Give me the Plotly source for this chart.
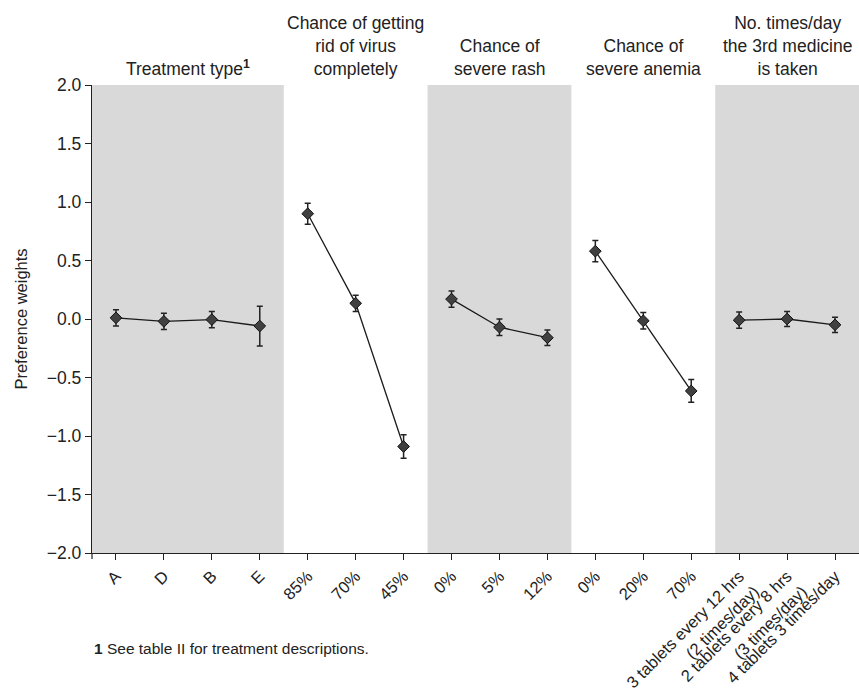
import plotly.graph_objects as go

# ---- data ----
tick_labels = ["A", "D", "B", "E",
               "85%", "70%", "45%",
               "0%", "5%", "12%",
               "0%", "20%", "70%",
               "3 tablets every 12 hrs<br>(2 times/day)",
               "2 tablets every 8 hrs<br>(3 times/day)",
               "4 tablets 3 times/day"]
group_titles = ["Treatment type<sup><b>1</b></sup>",
                "Chance of getting<br>rid of virus<br>completely",
                "Chance of<br>severe rash",
                "Chance of<br>severe anemia",
                "No. times/day<br>the 3rd medicine<br>is taken"]
group_sizes = [4, 3, 3, 3, 3]

treatment_vals = [0.01, -0.02, -0.005, -0.06]
treatment_err_plus = [0.07, 0.07, 0.07, 0.17]
treatment_err_minus = [0.07, 0.07, 0.07, 0.17]
virus_vals = [0.90, 0.134, -1.09]
virus_err = [0.09, 0.07, 0.10]
rash_vals = [0.17, -0.07, -0.16]
rash_err = [0.07, 0.07, 0.067]
anemia_vals = [0.58, -0.015, -0.615]
anemia_err = [0.09, 0.07, 0.097]
times_vals = [-0.01, 0.0, -0.05]
times_err = [0.07, 0.065, 0.065]

groups = [
    (treatment_vals, treatment_err_plus, treatment_err_minus),
    (virus_vals, virus_err, virus_err),
    (rash_vals, rash_err, rash_err),
    (anemia_vals, anemia_err, anemia_err),
    (times_vals, times_err, times_err),
]

fig = go.Figure()

start = 0
starts = []
for (vals, ep, em), n in zip(groups, group_sizes):
    xs = list(range(start, start + n))
    starts.append(start)
    fig.add_trace(go.Scatter(
        x=xs, y=vals, mode="lines+markers",
        line=dict(color="#1a1a1a", width=1.3),
        marker=dict(symbol="diamond", size=9, color="#404040",
                    line=dict(color="#111111", width=1)),
        error_y=dict(type="data", array=ep, arrayminus=em, symmetric=False,
                     color="#222222", thickness=1.5, width=3),
        showlegend=False, hoverinfo="skip"))
    start += n

# shaded background bands
shapes = []
for i, (s, n) in enumerate(zip(starts, group_sizes)):
    if i % 2 == 0:
        shapes.append(dict(type="rect", xref="x", yref="paper",
                           x0=s - 0.5, x1=s + n - 0.5, y0=0, y1=1,
                           fillcolor="#d9d9d9", line=dict(width=0),
                           layer="below"))
# small downward extension of the y axis below the x axis
shapes.append(dict(type="line", xref="paper", yref="paper",
                   x0=0, x1=0, y0=0, y1=-6 / 468,
                   line=dict(color="#222222", width=1.2)))

annotations = []
for i, (s, n) in enumerate(zip(starts, group_sizes)):
    annotations.append(dict(x=s + (n - 1) / 2, y=1.0, xref="x", yref="paper",
                            yanchor="bottom", yshift=4,
                            text=group_titles[i], showarrow=False,
                            font=dict(size=17.5, color="#222222"),
                            align="center"))
annotations.append(dict(x=0, y=0, xref="paper", yref="paper",
                        xanchor="left", yanchor="middle",
                        yshift=-95,
                        text="<b>1</b> See table II for treatment descriptions.",
                        showarrow=False, font=dict(size=15.5, color="#222222")))

fig.update_layout(
    width=859, height=697,
    margin=dict(l=92, r=0, t=85, b=144, pad=0, autoexpand=False),
    plot_bgcolor="white", paper_bgcolor="white",
    font=dict(family="Liberation Sans, Arial, sans-serif", color="#222222"),
    shapes=shapes, annotations=annotations,
    xaxis=dict(range=[-0.5, 15.5], tickmode="array", automargin=False,
               tickvals=list(range(16)), ticktext=tick_labels,
               tickangle=-45, ticks="outside", ticklen=6, tickcolor="#222222",
               showline=True, linecolor="#222222", linewidth=1.2,
               showgrid=False, zeroline=False,
               tickfont=dict(size=16.5)),
    yaxis=dict(range=[-2.0, 2.0], tickmode="array", automargin=False,
               tickvals=[2.0, 1.5, 1.0, 0.5, 0.0, -0.5, -1.0, -1.5, -2.0],
               ticktext=["2.0", "1.5", "1.0", "0.5", "0.0", "\u22120.5",
                         "\u22121.0", "\u22121.5", "\u22122.0"],
               ticks="outside", ticklen=6, tickcolor="#222222",
               showline=True, linecolor="#222222", linewidth=1.2,
               showgrid=False, zeroline=False,
               tickfont=dict(size=17.5),
               title=dict(text="Preference weights", font=dict(size=16.5),
                          standoff=15)),
)

fig.write_html(
    "out.html",
    config={"displayModeBar": False, "staticPlot": True},
    post_script=(
        "var h=document.documentElement, b=document.body;"
        "h.style.margin='0px'; h.style.padding='0px';"
        "h.style.overflow='hidden'; h.style.height='697px';"
        "b.style.margin='0px'; b.style.padding='0px';"
        "b.style.overflow='hidden'; b.style.height='697px';"
    ),
)
